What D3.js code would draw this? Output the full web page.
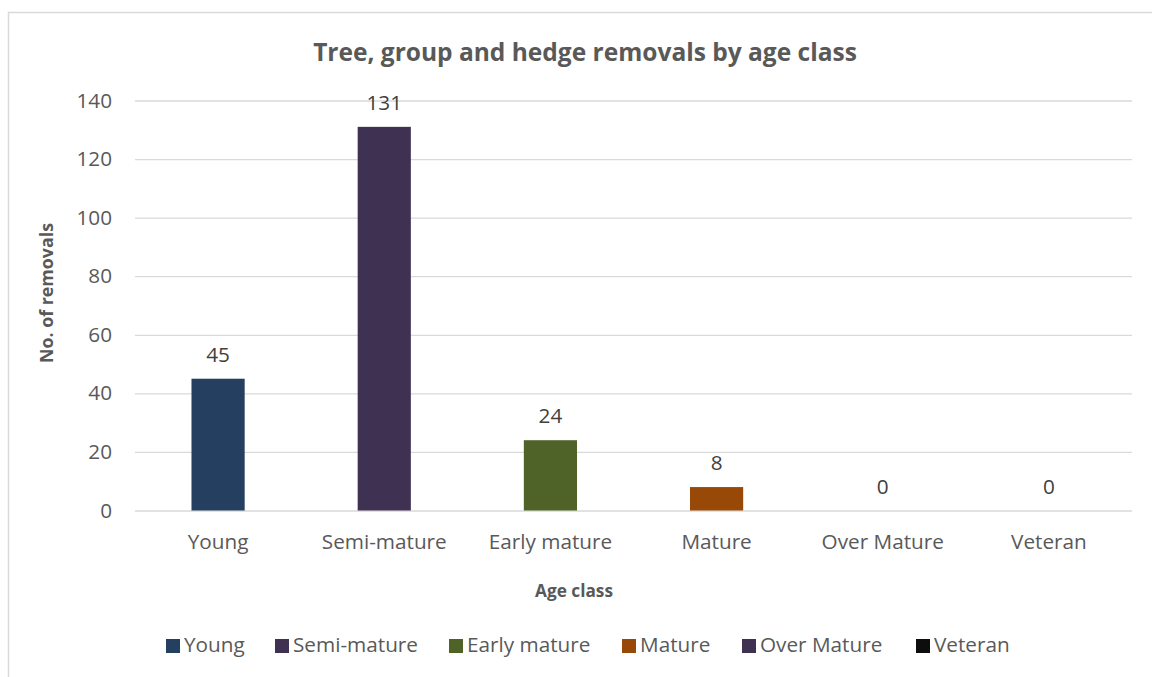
<!DOCTYPE html>
<html>
  <head>
    <meta charset="utf-8">
    <title>Removals by age class</title>
    <script src="https://cdn.jsdelivr.net/npm/d3@7"></script>
    <style>
      body { margin:0; background:#fff; }
      text { font-family:"Open Sans", "Noto Sans", sans-serif; fill:#595959; }
    </style>
  </head>
  <body>
    <svg></svg>
    <script>
    // data
    var categories = ["Young", "Semi-mature", "Early mature", "Mature", "Over Mature", "Veteran"];
    var removals = [45, 131, 24, 8, 0, 0];
    var barColours = ["#243f60", "#3f3151", "#4f6228", "#984807", "#3f3151", "#0d0d0d"];
    var yTicks = [0, 20, 40, 60, 80, 100, 120, 140];

    var width = 1152, height = 677;
    var svg = d3.select("svg").attr("width", width).attr("height", height);

    // chart frame
    svg.append("rect")
      .attr("x", 8.5).attr("y", 12.5)
      .attr("width", 1160).attr("height", 700)
      .attr("fill", "none").attr("stroke", "#d9d9d9").attr("stroke-width", 1.5);

    var plotLeft = 135, plotRight = 1132, plotTop = 100.5, plotBottom = 510.5;

    var x = d3.scaleBand().domain(categories).range([plotLeft, plotRight])
      .paddingInner(0.68).paddingOuter(0.34);
    var y = d3.scaleLinear().domain([0, 140]).range([plotBottom, plotTop]);

    // find a font size that makes a string a given width
    function fitSize(str, target, weight) {
      var t = svg.append("text").attr("font-size", 20).attr("font-weight", weight || "normal").text(str);
      var w = t.node().getComputedTextLength();
      t.remove();
      return 20 * target / w;
    }
    var baseSize = fitSize("Semi-mature", 125);

    // grid + y labels
    var yAxis = svg.append("g")
      .attr("transform", "translate(" + plotLeft + ",0)")
      .call(d3.axisLeft(y).tickValues(yTicks).tickSize(-(plotRight - plotLeft)).tickPadding(23));
    yAxis.select(".domain").remove();
    yAxis.selectAll("line").attr("stroke", "#d9d9d9").attr("stroke-width", 1.3);
    yAxis.selectAll("text").attr("font-size", baseSize).attr("fill", "#595959")
      .attr("font-family", null);

    // bars
    svg.append("g").selectAll("rect")
      .data(removals)
      .join("rect")
      .attr("x", function(d, i) { return x(categories[i]); })
      .attr("y", function(d) { return y(d); })
      .attr("width", x.bandwidth())
      .attr("height", function(d) { return y(0) - y(d); })
      .attr("fill", function(d, i) { return barColours[i]; });

    // value labels
    svg.append("g").selectAll("text")
      .data(removals)
      .join("text")
      .attr("x", function(d, i) { return x(categories[i]) + x.bandwidth() / 2; })
      .attr("y", function(d) { return y(d) - 17; })
      .attr("text-anchor", "middle")
      .attr("font-size", baseSize)
      .style("fill", "#404040")
      .text(function(d) { return d; });

    // category labels
    var xAxis = svg.append("g")
      .attr("transform", "translate(0," + plotBottom + ")")
      .call(d3.axisBottom(x).tickSize(0).tickPadding(38 - 0.71 * baseSize));
    xAxis.select(".domain").remove();
    xAxis.selectAll("text").attr("font-size", baseSize).attr("fill", "#595959")
      .attr("font-family", null);

    // titles
    svg.append("text")
      .attr("x", 585).attr("y", 61)
      .attr("text-anchor", "middle")
      .attr("font-weight", "bold")
      .attr("font-size", fitSize("Tree, group and hedge removals by age class", 544, "bold"))
      .text("Tree, group and hedge removals by age class");

    svg.append("text")
      .attr("x", 574).attr("y", 597)
      .attr("text-anchor", "middle")
      .attr("font-weight", "bold")
      .attr("font-size", fitSize("Age class", 78, "bold"))
      .text("Age class");

    svg.append("text")
      .attr("transform", "translate(53,293) rotate(-90)")
      .attr("text-anchor", "middle")
      .attr("font-weight", "bold")
      .attr("font-size", fitSize("No. of removals", 140, "bold"))
      .text("No. of removals");

    // legend
    var legendX = [166, 275, 449, 622, 742, 916];
    var legend = svg.append("g").selectAll("g")
      .data(categories)
      .join("g")
      .attr("transform", function(d, i) { return "translate(" + legendX[i] + ",639)"; });
    legend.append("rect")
      .attr("width", 14).attr("height", 14)
      .attr("fill", function(d, i) { return barColours[i]; });
    legend.append("text")
      .attr("x", 18).attr("y", 13)
      .attr("font-size", baseSize)
      .text(function(d) { return d; });
    </script>
  </body>
</html>
